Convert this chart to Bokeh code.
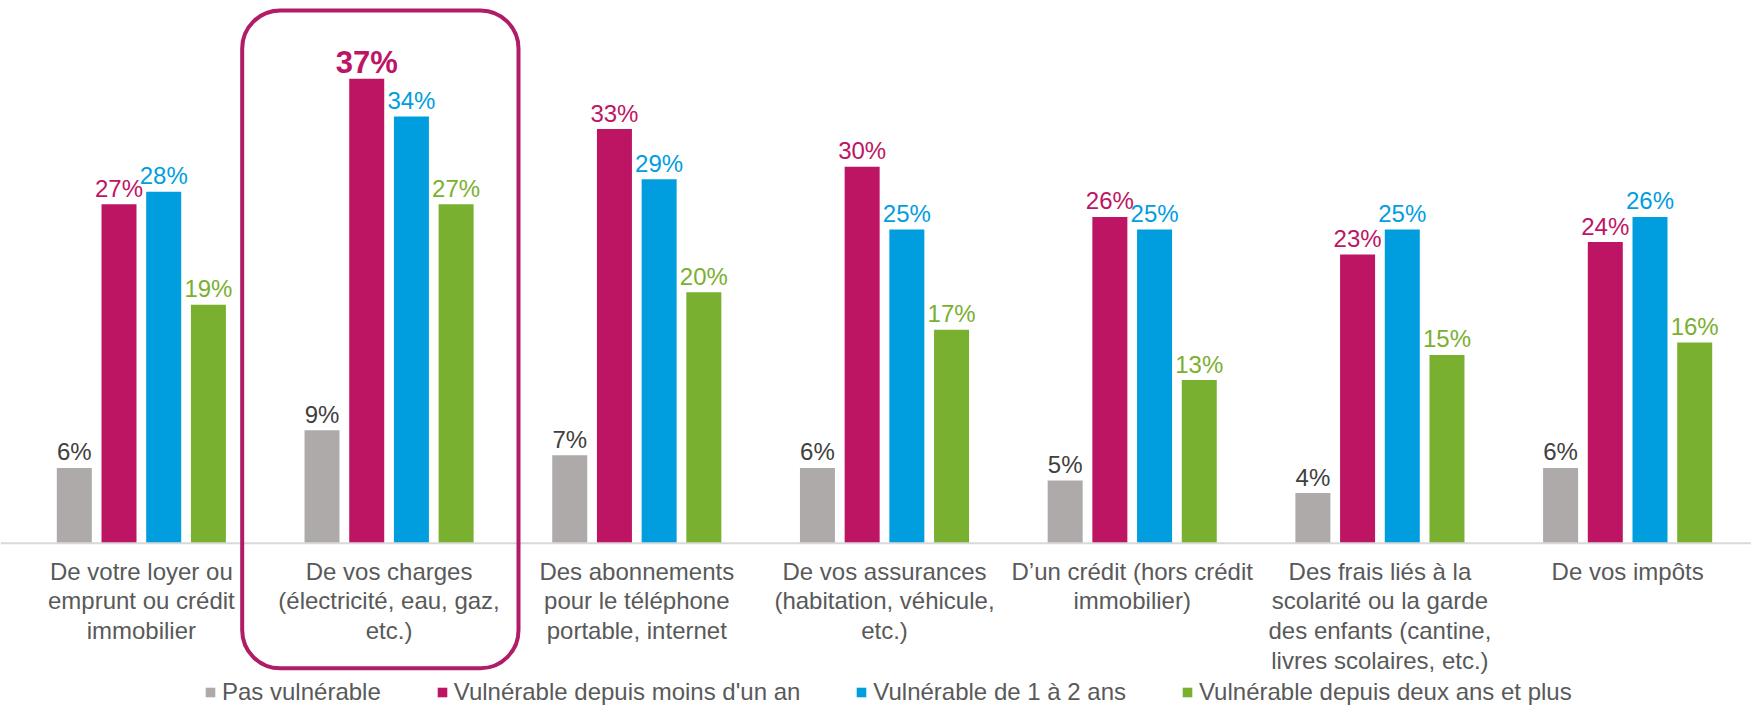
import numpy as np
from bokeh.plotting import figure
from bokeh.models import ColumnDataSource, Range1d, Span, BoxAnnotation, Legend, LegendItem
from bokeh.core.properties import value
from bokeh.embed import file_html
from bokeh.resources import INLINE

# ---------------- data ----------------
categories = [
    "De votre loyer ou\nemprunt ou crédit\nimmobilier",
    "De vos charges\n(électricité, eau, gaz,\netc.)",
    "Des abonnements\npour le téléphone\nportable, internet",
    "De vos assurances\n(habitation, véhicule,\netc.)",
    "D\u2019un crédit (hors crédit\nimmobilier)",
    "Des frais liés à la\nscolarité ou la garde\ndes enfants (cantine,\nlivres scolaires, etc.)",
    "De vos impôts",
]
series_names = [
    "Pas vulnérable",
    "Vulnérable depuis moins d'un an",
    "Vulnérable de 1 à 2 ans",
    "Vulnérable depuis deux ans et plus",
]
pas_vulnerable = [6, 9, 7, 6, 5, 4, 6]
moins_un_an = [27, 37, 33, 30, 26, 23, 24]
un_a_deux_ans = [28, 34, 29, 25, 25, 25, 26]
deux_ans_et_plus = [19, 27, 20, 17, 13, 15, 16]
highlight_category = 1          # "De vos charges"
highlight_series = 1            # "Vulnérable depuis moins d'un an"

series_values = [pas_vulnerable, moins_un_an, un_a_deux_ans, deux_ans_et_plus]

# ---------------- style ----------------
bar_colors = ["#AEAAAA", "#BE1464", "#009EDE", "#7AB030"]
label_colors = ["#404040", "#BE1464", "#009EDE", "#7AB030"]
box_color = "#B01C66"
text_grey = "#595959"
FONT = "Liberation Sans"

W, H = 1751, 709
AX_LEFT = 17                      # px where the category axis starts
n = len(categories)
unit_px = (W - AX_LEFT) / n
px_per_pct = 12.55
baseline_px = 542.7
y_top = baseline_px / px_per_pct
y_bot = -(H - baseline_px) / px_per_pct

p = figure(width=W, height=H, output_backend="svg", toolbar_location=None,
           x_range=Range1d(-AX_LEFT / unit_px, n), y_range=Range1d(y_bot, y_top),
           x_axis_location=None, y_axis_location=None,
           min_border_left=0, min_border_right=0, min_border_top=0, min_border_bottom=0,
           outline_line_color=None, background_fill_color="white", border_fill_color="white")
p.xgrid.visible = False
p.ygrid.visible = False

bar_w = 35 / unit_px
step = 44.7 / unit_px
centers = np.arange(n) + 0.5
gap = 16 / px_per_pct

renderers = []
lx, ly, lt, lc, ls, lst = [], [], [], [], [], []
for k, vals in enumerate(series_values):
    xs = centers + (k - 1.5) * step
    src = ColumnDataSource(dict(x=xs, top=vals))
    r = p.vbar(x="x", top="top", bottom=0, width=bar_w, source=src,
               fill_color=bar_colors[k], line_color=None)
    renderers.append(r)
    for i, v in enumerate(vals):
        hl = (i == highlight_category and k == highlight_series)
        lx.append(xs[i])
        ly.append(v + gap)
        lt.append(f"{v}%")
        lc.append(label_colors[k])
        ls.append("31px" if hl else "24px")
        lst.append("bold" if hl else "normal")

lab_src = ColumnDataSource(dict(x=lx, y=ly, t=lt, c=lc, s=ls, st=lst))
p.text(x="x", y="y", text="t", source=lab_src, text_color="c", text_font_size="s",
       text_font_style="st", text_font=value(FONT), text_align="center",
       text_baseline="alphabetic")

# baseline of the category axis
p.add_layout(Span(location=0, dimension="width", line_color="#D9D9D9", line_width=2))

# category labels
cat_src = ColumnDataSource(dict(x=centers, y=[-14.5 / px_per_pct] * n, t=categories))
p.text(x="x", y="y", text="t", source=cat_src, text_color=text_grey,
       text_font_size="24px", text_font=value(FONT), text_align="center",
       text_baseline="top", text_line_height=1.1)

# highlight box
box = BoxAnnotation(left=(241.7 - AX_LEFT) / unit_px, right=(518 - AX_LEFT) / unit_px,
                    top=y_top - 10 / px_per_pct, bottom=-125 / px_per_pct,
                    fill_alpha=0, line_color=box_color, line_alpha=1.0, line_width=4,
                    border_radius=38)
p.add_layout(box)

# legend
items = [LegendItem(label=series_names[k], renderers=[renderers[k]]) for k in range(4)]
legend = Legend(items=items, orientation="horizontal", location=(204, 3),
                label_text_font=FONT, label_text_font_size="24px", label_text_color=text_grey,
                glyph_width=12, glyph_height=12, label_standoff=6, spacing=55,
                padding=0, margin=0, border_line_alpha=0, background_fill_alpha=0)
p.add_layout(legend)

open("out.html", "w").write(file_html(p, INLINE))
